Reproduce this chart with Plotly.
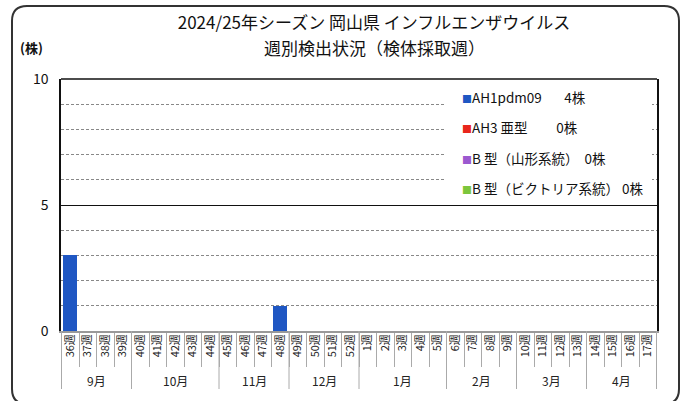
import plotly.graph_objects as go

# ---------------- data ----------------
weeks = ["36週", "37週", "38週", "39週", "40週", "41週", "42週", "43週", "44週",
         "45週", "46週", "47週", "48週", "49週", "50週", "51週", "52週",
         "1週", "2週", "3週", "4週", "5週", "6週", "7週", "8週", "9週",
         "10週", "11週", "12週", "13週", "14週", "15週", "16週", "17週"]
months = ["9月", "10月", "11月", "12月", "1月", "2月", "3月", "4月"]
month_spans = [4, 5, 4, 4, 5, 4, 4, 4]

ah1pdm09 = [3, 0, 0, 0, 0, 0, 0, 0, 0, 0, 0, 0, 1, 0, 0, 0, 0,
            0, 0, 0, 0, 0, 0, 0, 0, 0, 0, 0, 0, 0, 0, 0, 0, 0]
ah3 = [0, 0, 0, 0, 0, 0, 0, 0, 0, 0, 0, 0, 0, 0, 0, 0, 0,
       0, 0, 0, 0, 0, 0, 0, 0, 0, 0, 0, 0, 0, 0, 0, 0, 0]
b_yamagata = [0, 0, 0, 0, 0, 0, 0, 0, 0, 0, 0, 0, 0, 0, 0, 0, 0,
              0, 0, 0, 0, 0, 0, 0, 0, 0, 0, 0, 0, 0, 0, 0, 0, 0]
b_victoria = [0, 0, 0, 0, 0, 0, 0, 0, 0, 0, 0, 0, 0, 0, 0, 0, 0,
              0, 0, 0, 0, 0, 0, 0, 0, 0, 0, 0, 0, 0, 0, 0, 0, 0]

series_names = ["AH1pdm09", "AH3 亜型", "B 型（山形系統）", "B 型（ビクトリア系統）"]
series_values = [ah1pdm09, ah3, b_yamagata, b_victoria]
series_colors = ["#1f57c3", "#e8261c", "#9b59d0", "#7cc63c"]
label_pads = ["\u3000\u00a0\u00a0\u00a0", "\u3000\u00a0\u00a0\u00a0\u00a0\u00a0",
              "\u00a0\u00a0", "\u00a0"]

y_ticks = [0, 5, 10]
title_line1 = "2024/25年シーズン 岡山県 インフルエンザウイルス"
title_line2 = "週別検出状況（検体採取週）"

# ---------------- layout geometry ----------------
W, H = 686, 401
ML, MR, MT, MB = 61, 29, 79, 70
PW, PH = W - ML - MR, H - MT - MB
FONT = "Noto Sans CJK JP"


def px_x(px):
    return (px - ML) / PW


def px_y(py):
    return (H - MB - py) / PH


fig = go.Figure()

for name, vals, col in zip(series_names, series_values, series_colors):
    fig.add_trace(go.Bar(x=weeks, y=vals, name=name, marker_color=col,
                         marker_line_width=0, showlegend=False))

# legend entries (square drawn as part of the label text)
for i, (name, vals, col, pad) in enumerate(zip(series_names, series_values,
                                               series_colors, label_pads)):
    label = (f"<span style='color:{col};font-size:10px'>■</span>"
             f"{name}{pad}{sum(vals)}株")
    fig.add_trace(go.Scatter(x=[None], y=[None], mode="markers",
                             marker=dict(color="rgba(0,0,0,0)", size=1),
                             name=label, legendgroup=str(i), showlegend=True,
                             hoverinfo="skip"))

shapes = []
# white box behind legend
shapes.append(dict(type="rect", xref="paper", yref="paper", layer="above",
                   x0=px_x(445), x1=px_x(652), y0=px_y(197), y1=px_y(84),
                   fillcolor="white", line_width=0))
# top border of plot area
shapes.append(dict(type="line", xref="paper", yref="paper", layer="above",
                   x0=0, x1=1, y0=1, y1=1, line=dict(color="#111", width=1.5)))
# month separators
b = -0.5
bounds = [b]
for s in month_spans:
    b += s
    bounds.append(b)
for bx in bounds:
    shapes.append(dict(type="line", xref="x", yref="paper", x0=bx, x1=bx,
                       y0=0, y1=px_y(389), line=dict(color="#aaaaaa", width=1)))

# outer rounded frame
fl, fr, ft, fb, r = 12, 679, 6, 404, 15
path = (f"M {px_x(fl + r)},{px_y(ft)} L {px_x(fr - r)},{px_y(ft)} "
        f"Q {px_x(fr)},{px_y(ft)} {px_x(fr)},{px_y(ft + r)} "
        f"L {px_x(fr)},{px_y(fb - r)} Q {px_x(fr)},{px_y(fb)} {px_x(fr - r)},{px_y(fb)} "
        f"L {px_x(fl + r)},{px_y(fb)} Q {px_x(fl)},{px_y(fb)} {px_x(fl)},{px_y(fb - r)} "
        f"L {px_x(fl)},{px_y(ft + r)} Q {px_x(fl)},{px_y(ft)} {px_x(fl + r)},{px_y(ft)} Z")
shapes.append(dict(type="path", xref="paper", yref="paper", path=path,
                   line=dict(color="#333333", width=2)))

annotations = []
start = 0
for m, s in zip(months, month_spans):
    annotations.append(dict(text=m, xref="x", yref="paper",
                            x=start + (s - 1) / 2, y=px_y(380),
                            showarrow=False, font=dict(size=12, color="#222"),
                            xanchor="center", yanchor="middle"))
    start += s
annotations.append(dict(text="<b>(株)</b>", xref="paper", yref="paper",
                        x=px_x(31), y=px_y(47), showarrow=False,
                        font=dict(size=13, color="#111"),
                        xanchor="center", yanchor="middle"))
annotations.append(dict(text=title_line2, xref="paper", yref="paper",
                        x=px_x(374), y=px_y(47), showarrow=False,
                        font=dict(size=17, color="#111"),
                        xanchor="center", yanchor="middle"))

fig.update_layout(
    width=W, height=H, autosize=False,
    margin=dict(l=ML, r=MR, t=MT, b=MB, pad=0),
    paper_bgcolor="white", plot_bgcolor="white",
    font=dict(family=FONT, color="#111"),
    title=dict(text=title_line1,
               x=px_x(374), xref="paper", xanchor="center",
               y=1 - 23 / H, yref="container", yanchor="middle",
               font=dict(size=17, color="#111")),
    barmode="stack", bargap=0.2,
    showlegend=True,
    legend=dict(x=px_x(422), y=px_y(82), xanchor="left", yanchor="top",
                bgcolor="rgba(0,0,0,0)", font=dict(size=13.5, color="#111"),
                traceorder="grouped", tracegroupgap=10, itemwidth=30),
    shapes=shapes, annotations=annotations,
    xaxis=dict(type="category", categoryorder="array", categoryarray=weeks,
               tickson="boundaries", ticks="outside", ticklen=34,
               tickcolor="#aaaaaa", tickwidth=1, tickangle=-90,
               ticklabelstandoff=-3,
               tickfont=dict(size=11, color="#222"),
               showline=True, linecolor="#999999", linewidth=1.5,
               showgrid=False, fixedrange=True),
    yaxis=dict(range=[0, 10], tickvals=y_ticks, ticks="",
               tickfont=dict(size=14, color="#111"), ticklabelstandoff=8,
               showgrid=True, gridcolor="#111", gridwidth=1,
               minor=dict(dtick=1, showgrid=True, gridcolor="#888",
                          griddash="3px,2px", gridwidth=1),
               showline=True, linecolor="#111", linewidth=1.5, mirror=True,
               zeroline=False, fixedrange=True),
)

fig.write_html("out.html", config={"displayModeBar": False},
               post_script="document.body.style.margin='0px';")
